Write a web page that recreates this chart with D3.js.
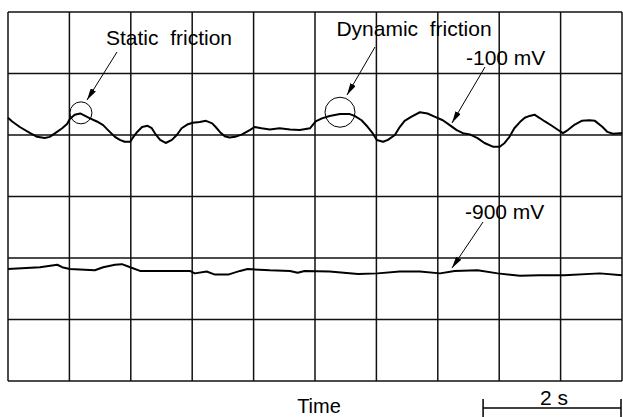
<!doctype html>
<html lang="en">
<head>
<meta charset="UTF-8">
<title>Friction signal</title>
<style>
  body { margin: 0; background: #fff; }
  svg text { font-family: "Liberation Sans", Arial, Helvetica, sans-serif; fill: #000; }
</style>
</head>
<body>
<svg width="623" height="417"></svg>
<script src="https://cdn.jsdelivr.net/npm/d3@7"></script>
<script>
// time in seconds, signal in screen divisions (0 = bottom grid line)
const secPerDiv = 0.884
const nDivX = 10, nDivY = 6

const upperTime = [0, 0.06, 0.17, 0.32, 0.42, 0.53, 0.60, 0.68, 0.78, 0.85, 0.89, 0.96, 1.04, 1.11, 1.18, 1.28,
  1.37, 1.44, 1.54, 1.61, 1.68, 1.76, 1.80, 1.86, 1.93, 2.01, 2.07, 2.12, 2.19, 2.27, 2.36, 2.43, 2.50, 2.58,
  2.66, 2.76, 2.85, 2.94, 2.99, 3.05, 3.12, 3.19, 3.27, 3.37, 3.48, 3.55, 3.65, 3.77, 3.91, 4.06, 4.20, 4.35,
  4.43, 4.52, 4.63, 4.78, 4.92, 4.99, 5.09, 5.18, 5.25, 5.31, 5.40, 5.47, 5.57, 5.64, 5.71, 5.81, 5.93, 6.04,
  6.14, 6.26, 6.36, 6.46, 6.55, 6.65, 6.76, 6.86, 6.98, 7.08, 7.15, 7.22, 7.29, 7.37, 7.44, 7.51, 7.58, 7.65,
  7.73, 7.83, 7.91, 7.99, 8.06, 8.16, 8.26, 8.37, 8.45, 8.56, 8.63, 8.71, 8.81, 8.84]
const upperValue = [4.28, 4.22, 4.13, 4.03, 3.97, 3.95, 3.97, 4.03, 4.11, 4.18, 4.26, 4.33, 4.35, 4.31, 4.27, 4.22,
  4.16, 4.08, 3.97, 3.92, 3.89, 3.89, 3.96, 4.05, 4.13, 4.15, 4.11, 4.02, 3.92, 3.87, 3.92, 4.00, 4.11, 4.17,
  4.20, 4.21, 4.23, 4.19, 4.13, 4.05, 3.98, 3.96, 3.97, 4.01, 4.08, 4.13, 4.11, 4.09, 4.11, 4.09, 4.08, 4.11,
  4.22, 4.27, 4.31, 4.34, 4.34, 4.31, 4.24, 4.13, 4.03, 3.92, 3.89, 3.92, 4.00, 4.13, 4.23, 4.30, 4.37, 4.35,
  4.30, 4.24, 4.16, 4.08, 4.03, 4.01, 3.95, 3.87, 3.81, 3.81, 3.87, 3.97, 4.11, 4.21, 4.28, 4.31, 4.33, 4.28,
  4.22, 4.15, 4.09, 4.03, 4.08, 4.17, 4.23, 4.24, 4.23, 4.13, 4.05, 4.02, 4.03, 4.03]

const lowerTime = [0, 0.46, 0.71, 0.78, 0.89, 1.25, 1.37, 1.54, 1.64, 1.76, 1.90, 2.19, 2.62, 2.69, 2.86, 2.98,
  3.17, 3.34, 3.45, 3.77, 4.06, 4.17, 4.27, 4.63, 5.04, 5.32, 5.64, 5.93, 6.22, 6.43, 6.76, 7.05, 7.37, 7.65,
  8.01, 8.52, 8.84]
const lowerValue = [1.82, 1.85, 1.89, 1.85, 1.82, 1.80, 1.85, 1.89, 1.90, 1.85, 1.79, 1.79, 1.79, 1.75, 1.78, 1.73,
  1.73, 1.79, 1.82, 1.80, 1.79, 1.76, 1.79, 1.78, 1.74, 1.75, 1.78, 1.78, 1.75, 1.79, 1.80, 1.75, 1.71, 1.72,
  1.72, 1.75, 1.72]

// circled spots on the upper trace [time, value, radius px]
const circles = [[1.05, 4.36, 11], [4.78, 4.37, 15]]

const svg = d3.select('svg')
const margin = {left: 8, top: 12}
const w = 614, h = 369

const x = d3.scaleLinear().domain([0, nDivX * secPerDiv]).range([margin.left, margin.left + w])
const y = d3.scaleLinear().domain([0, nDivY]).range([margin.top + h, margin.top])

// grid
const grid = svg.append('g').attr('stroke', '#111').attr('stroke-width', 1.5)
grid.selectAll('line.v')
  .data(d3.range(nDivX + 1).map(i => i * secPerDiv))
  .enter().append('line')
  .attr('x1', d => x(d)).attr('x2', d => x(d))
  .attr('y1', y(0)).attr('y2', y(nDivY))
grid.selectAll('line.h')
  .data(d3.range(nDivY + 1))
  .enter().append('line')
  .attr('x1', x(0)).attr('x2', x(nDivX * secPerDiv))
  .attr('y1', d => y(d)).attr('y2', d => y(d))

const line = d3.line().x(d => x(d[0])).y(d => y(d[1]))

svg.append('path')
  .datum(d3.zip(upperTime, upperValue))
  .attr('d', line)
  .attr('fill', 'none').attr('stroke', '#000').attr('stroke-width', 2).attr('stroke-linejoin', 'round')
svg.append('path')
  .datum(d3.zip(lowerTime, lowerValue))
  .attr('d', line)
  .attr('fill', 'none').attr('stroke', '#000').attr('stroke-width', 2).attr('stroke-linejoin', 'round')

svg.selectAll('circle.mark')
  .data(circles)
  .enter().append('circle')
  .attr('cx', d => x(d[0])).attr('cy', d => y(d[1])).attr('r', d => d[2])
  .attr('fill', 'none').attr('stroke', '#000').attr('stroke-width', 1)

// arrows
svg.append('defs').append('marker')
  .attr('id', 'head')
  .attr('viewBox', '0 0 12 6')
  .attr('refX', 12).attr('refY', 3)
  .attr('markerWidth', 12).attr('markerHeight', 6)
  .attr('markerUnits', 'userSpaceOnUse')
  .attr('orient', 'auto')
  .append('path').attr('d', 'M0,0 L12,3 L0,6 Z').attr('fill', '#000')

const arrows = [
  [117, 52, 87, 100],
  [375, 47, 347, 95],
  [485, 67, 452, 123],
  [483, 222, 452, 268]
]
svg.selectAll('line.arrow')
  .data(arrows)
  .enter().append('line')
  .attr('x1', d => d[0]).attr('y1', d => d[1])
  .attr('x2', d => d[2]).attr('y2', d => d[3])
  .attr('stroke', '#000').attr('stroke-width', 1)
  .attr('marker-end', 'url(#head)')

const labels = [
  ['Static\u00a0 friction', 169, 45, 'middle', 21],
  ['Dynamic\u00a0 friction', 414, 36, 'middle', 21],
  ['-100 mV', 466, 65, 'start', 21],
  ['-900 mV', 465, 219, 'start', 21],
  ['Time', 319, 413, 'middle', 20],
  ['2 s', 554, 405, 'middle', 21]
]
svg.selectAll('text.lab')
  .data(labels)
  .enter().append('text')
  .attr('x', d => d[1]).attr('y', d => d[2])
  .attr('text-anchor', d => d[3])
  .attr('font-size', d => d[4])
  .text(d => d[0])

// 2 s scale bar at the right end of the time axis
const tEnd = nDivX * secPerDiv
const bar = svg.append('g').attr('stroke', '#000').attr('stroke-width', 1.5)
bar.append('line').attr('x1', x(tEnd - 2)).attr('x2', x(tEnd) - 1).attr('y1', 408).attr('y2', 408)
bar.append('line').attr('x1', x(tEnd - 2)).attr('x2', x(tEnd - 2)).attr('y1', 399).attr('y2', 417)
bar.append('line').attr('x1', x(tEnd) - 1).attr('x2', x(tEnd) - 1).attr('y1', 399).attr('y2', 417)
</script>
</body>
</html>
